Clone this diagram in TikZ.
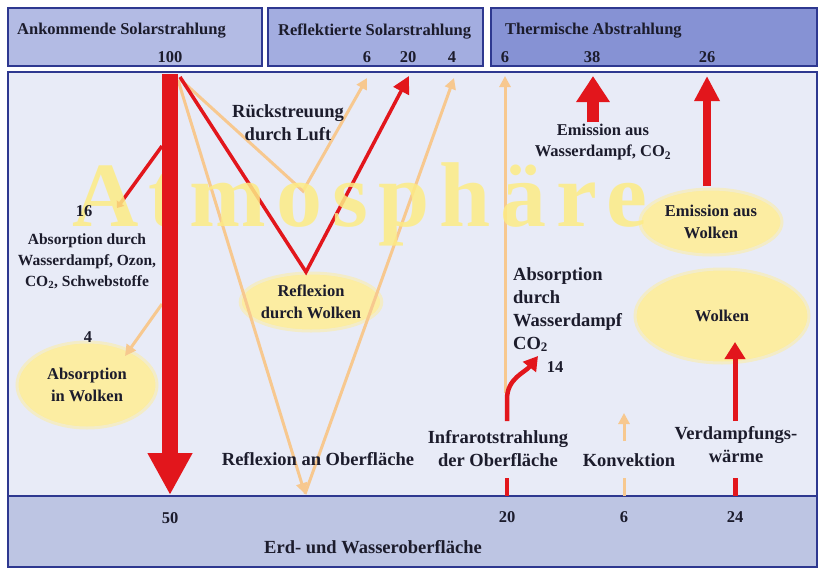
\documentclass[tikz,border=0pt]{standalone}
\usepackage{fontspec}
\setmainfont{Liberation Serif}
\usetikzlibrary{arrows.meta,shapes.geometric}
\definecolor{bgc}{HTML}{E8EBF7}
\definecolor{framec}{HTML}{2E3890}
\definecolor{hdrA}{HTML}{B3BBE4}
\definecolor{hdrB}{HTML}{A3ADE0}
\definecolor{hdrC}{HTML}{8692D4}
\definecolor{groundc}{HTML}{BDC5E3}
\definecolor{redc}{HTML}{E2161C}
\definecolor{peach}{HTML}{F7C88F}
\definecolor{cloudc}{HTML}{FCEDA2}
\definecolor{wmc}{HTML}{FDEB85}
\definecolor{txtc}{HTML}{1C1C2C}
\begin{document}
\begin{tikzpicture}[x=1pt,y=-1pt,
  panel/.style={draw=framec,line width=2.5pt,inner sep=0pt},
  lbl/.style={font=\bfseries\fontsize{16.5}{21}\selectfont,text=txtc,inner sep=0pt,align=center},
  biglbl/.style={font=\bfseries\fontsize{18.5}{23}\selectfont,text=txtc,inner sep=0pt,align=center},
  cloud/.style={ellipse,fill=cloudc,draw=cloudc!55!bgc,line width=3pt,inner sep=0pt,align=center,font=\bfseries\fontsize{16.5}{22}\selectfont,text=txtc},
  redthin/.style={draw=redc,line width=3.5pt,line join=miter},
  peachline/.style={draw=peach,line width=3pt},
  ptip/.style={-{Triangle[length=11pt,width=11pt]}},
  rtip/.style={-{Triangle[length=17pt,width=17pt]}},
]
\useasboundingbox (0,0) rectangle (821,570);
\fill[white] (0,0) rectangle (821,570);
% panels
\node[panel,fill=bgc,minimum width=809pt,minimum height=424pt] (atm) at (412.5,284) {};
\node[panel,fill=groundc,minimum width=809pt,minimum height=71pt] (ground) at (412.5,531.5) {};
\node[panel,fill=hdrA,minimum width=254pt,minimum height=58pt] (hA) at (135,37) {};
\node[panel,fill=hdrB,minimum width=215pt,minimum height=58pt] (hB) at (375.5,37) {};
\node[panel,fill=hdrC,minimum width=326pt,minimum height=58pt] (hC) at (654,37) {};
% header texts
\node[lbl,anchor=west] (tA) at (17,31) {Ankommende Solarstrahlung};
\node[lbl] (n100) at (170,57) {100};
\node[lbl,anchor=west] (tB) at (278,32) {Reflektierte Solarstrahlung};
\node[lbl] (n6a) at (367,57) {6};
\node[lbl] (n20a) at (408,57) {20};
\node[lbl] (n4a) at (452,57) {4};
\node[lbl,anchor=west] (tC) at (505,31) {Thermische Abstrahlung};
\node[lbl] (n6b) at (505,57) {6};
\node[lbl] (n38) at (592,57) {38};
\node[lbl] (n26) at (707,57) {26};
% clouds
\node[cloud,minimum width=140pt,minimum height=86pt] (eAbs) at (87,385) {Absorption\\in Wolken};
\node[cloud,minimum width=104pt,minimum height=58pt] (eRef) at (311,302) {Reflexion\\durch Wolken};
\node[cloud,minimum width=142pt,minimum height=66pt] (eEmi) at (711,222) {Emission aus\\Wolken};
\node[cloud,minimum width=174pt,minimum height=94pt] (eWol) at (722,316) {Wolken};
% coordinates
\coordinate (s100) at (170,74);
\coordinate (g50) at (170,495);
\coordinate (o1) at (180,77);
\coordinate (o2) at (181,80);
\coordinate (o3) at (178,80);
\coordinate (vR) at (306,272);
\coordinate (vL) at (303,191);
\coordinate (vS) at (305,494);
\coordinate (r6) at (367,78);
\coordinate (r20) at (409,76);
\coordinate (r4) at (454,78);
\coordinate (t6) at (505,76);
\coordinate (t38s) at (593,122);
\coordinate (t38) at (593,76);
\coordinate (t26s) at (707,186);
\coordinate (t26) at (707,76);
\coordinate (c4s) at (162,304);
\coordinate (c4e) at (125,356);
\coordinate (a16s) at (162,146);
\coordinate (a16e) at (117,208);
\coordinate (ir6b) at (505,393);
\coordinate (g20) at (507,496);
\coordinate (irtop) at (507,421);
\coordinate (a14) at (538,356);
\coordinate (g6) at (624,496);
\coordinate (konvtop) at (624,441);
\coordinate (konvend) at (624,413);
\coordinate (g24) at (735,496);
\coordinate (verdtop) at (735,421);
\coordinate (verdend) at (735,342);
% thin connectors
\draw[peachline,ptip] (o2) -- (vL) -- (r6);
\draw[peachline,ptip] (o3) -- (vS);
\draw[peachline,ptip] (vS) -- (r4);
\draw[peachline,ptip] (c4s) -- (c4e);
\draw[peachline,ptip] (ir6b) -- (t6);
\draw[redthin,rtip] (o1) -- (vR) -- (r20);
\draw[redthin,-{Triangle[length=6pt,width=9pt]}] (a16s) -- (a16e);
% watermark
\node[font=\bfseries\fontsize{92}{92}\selectfont\addfontfeature{LetterSpace=11},text=wmc,text opacity=0.85,anchor=base west,inner sep=0pt] (wm) at (72,226) {Atmosphäre};
% thick arrows
\draw[redc,line width=16pt,-{Triangle[length=42pt,width=42pt]}] (s100) -- (g50);
\draw[redc,line width=12pt,-{Triangle[length=26pt,width=32pt]}] (t38s) -- (t38);
\draw[redc,line width=8pt,-{Triangle[length=25pt,width=24pt]}] (t26s) -- (t26);
% surface connectors
\draw[redc,line width=4.5pt] (g20) -- ++(0,-18);
\draw[redc,line width=4.5pt,-{Triangle[length=14pt,width=16pt]}] (irtop) -- ++(0,-22) to[out=90,in=232] (a14);
\draw[peachline] (g6) -- ++(0,-18);
\draw[peachline,ptip] (konvtop) -- (konvend);
\draw[redc,line width=5pt] (g24) -- ++(0,-18);
\draw[redc,line width=5pt,-{Triangle[length=17pt,width=20pt]}] (verdtop) -- (verdend);
% labels
\node[biglbl] (rueck) at (288,123) {Rückstreuung\\durch Luft};
\node[lbl] (l16) at (84,211) {16};
\node[lbl,font=\bfseries\fontsize{15.5}{21}\selectfont] (absd) at (87,261) {Absorption durch\\Wasserdampf, Ozon,\\CO\textsubscript{2}, Schwebstoffe};
\node[lbl] (l4) at (88,337) {4};
\node[biglbl] (refo) at (318,459) {Reflexion an Oberfläche};
\node[biglbl] (ir) at (498,449) {Infrarotstrahlung\\der Oberfläche};
\node[biglbl] (konv) at (629,460) {Konvektion};
\node[biglbl] (verd) at (736,445) {Verdampfungs-\\wärme};
\node[lbl] (emwd) at (603,142) {Emission aus\\Wasserdampf, CO\textsubscript{2}};
\node[biglbl,align=left,anchor=north west] (absr) at (513,267) {Absorption\\durch\\Wasserdampf\\CO\textsubscript{2}};
\node[lbl] (l14) at (555,367) {14};
% ground labels
\node[lbl] (b50) at (170,518) {50};
\node[lbl] (b20) at (507,517) {20};
\node[lbl] (b6) at (624,517) {6};
\node[lbl] (b24) at (735,517) {24};
\node[biglbl] (erd) at (373,547) {Erd- und Wasseroberfläche};
\end{tikzpicture}
\end{document}
